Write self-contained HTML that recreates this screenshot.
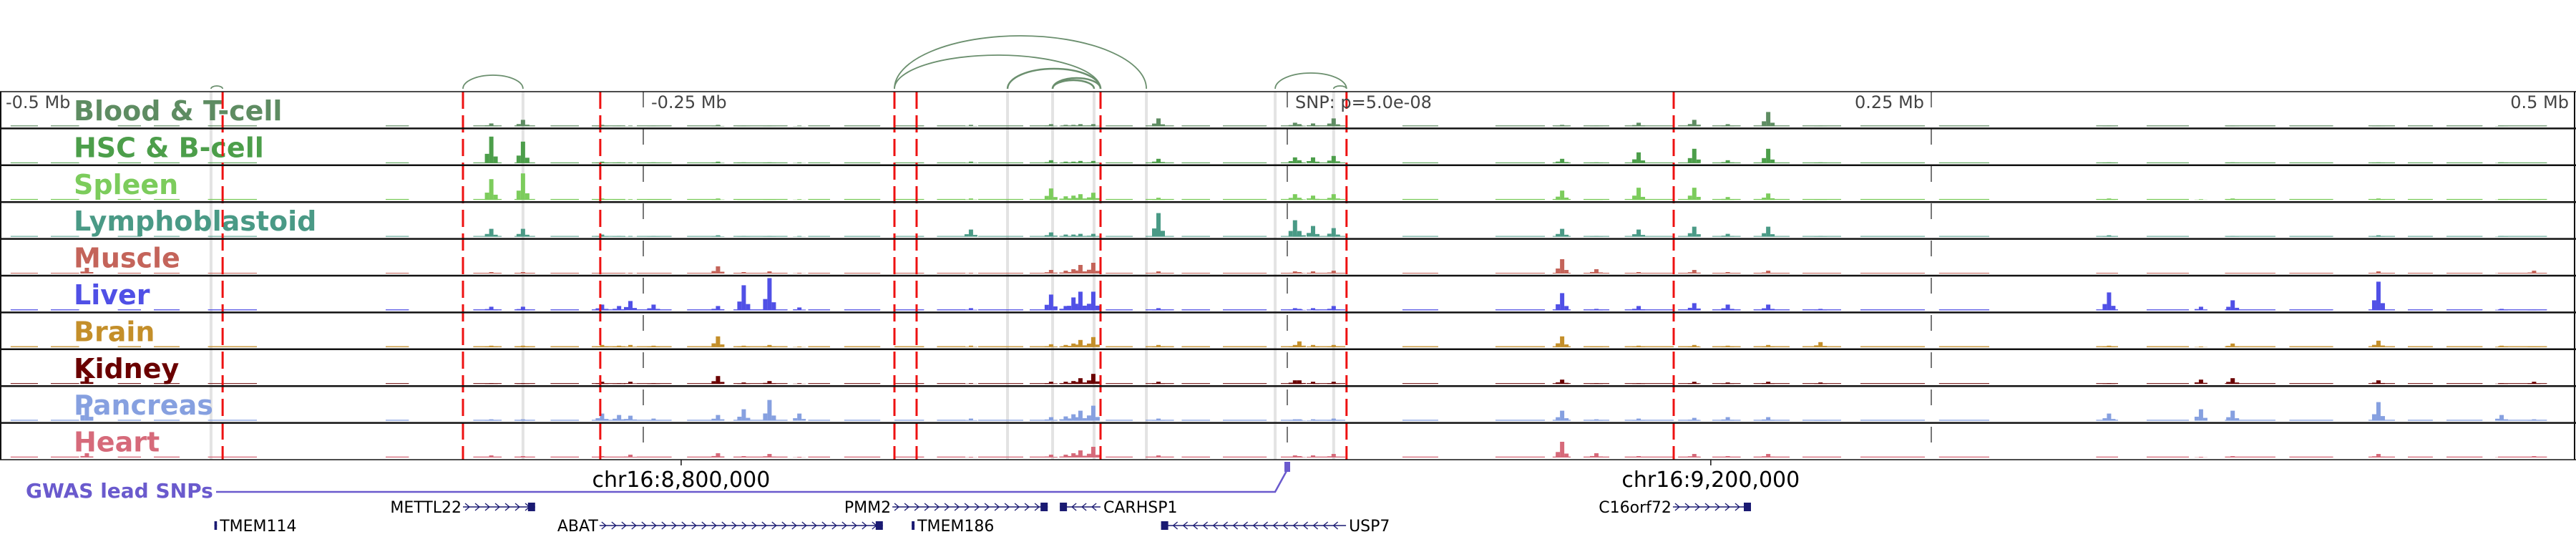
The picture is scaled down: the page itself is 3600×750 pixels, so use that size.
<!DOCTYPE html>
<html><head><meta charset="utf-8"><style>
html,body{margin:0;padding:0;background:#fff;width:3600px;height:750px;overflow:hidden}
svg{display:block}
</style></head><body>
<svg id="chart" width="3600" height="750" xmlns="http://www.w3.org/2000/svg"></svg>
<script>
// ---- data ----
const trackNames = ["Blood & T-cell","HSC & B-cell","Spleen","Lymphoblastoid","Muscle","Liver","Brain","Kidney","Pancreas","Heart"];
const trackColors = ["#5e8c62","#4c9e4a","#7ccc5c","#4a9a86","#c4645a","#5050e6","#c48f2a","#6a0000","#86a0e0","#d66a7a"];
const bgLevels = [1.2,1,1.3,1,1,1.3,1.3,1,1.3,1.3];
const bgStarts = [-495.6,-480,-454,-440,-419,-350,-316,-300,-286,-270,-252.5,-233,-215,-186,-172,-152.5,-136,-120,-100,-88,-70.5,-55,-41,-25,-2.5,10,44.7,80.8,103,115,131,151.7,165,181,200,222.5,253,314,333.6,364,389,419.7,435,450,470];
const bgEnds   = [-485,-469,-445,-430,-400,-341,-305,-292,-275,-257,-239,-220,-194,-177.5,-158,-141,-125,-102.5,-92,-75,-60,-44,-30,-8,6,22.5,58.6,100,110,125,150,160,176,195,215,247.5,272.5,322.5,350,383.6,406,430,444.7,464,489];
const peakPos = [-466,-309,-296.7,-266,-259.4,-255,-246,-221,-211,-201,-189.4,-122.8,-91.7,-86,-83,-80.3,-75.3,-50,3,4.7,10,18,106.7,120,136.4,158,171,186.7,207,319,354.7,367,423.6,471.4,484];
const peakVals = [
 [0,0,0,0,8,0,0,10,22,6],[4,37,29,11,2,5,2,1,2,3],[9,30,37,11,2,5,2,1,2,2],[2,2,2,3,1,8,3,3,10,2],
 [1,1,1,1,1,6,2,1,8,1],[1,1,1,1,1,13,3,3,7,4],[1,1,1,1,1,8,2,1,3,1],[2,2,2,2,10,6,15,11,8,6],
 [1,1,1,1,2,35,2,2,16,2],[1,1,1,1,3,45,3,4,29,5],[1,1,1,1,1,4,1,1,10,1],[2,2,2,10,1,3,2,1,3,1],
 [3,4,16,6,5,22,4,3,5,4],[2,2,5,3,4,6,3,3,6,4],[2,2,6,3,6,18,5,4,9,6],
 [3,3,8,4,12,26,10,8,14,10],[3,3,10,4,15,26,14,14,21,15],[11,6,3,33,3,3,3,3,3,3],
 [5,8,8,23,3,3,3,5,2,3],[3,4,3,8,2,2,8,5,2,2],[4,8,6,15,3,3,3,3,2,3],[11,10,8,12,4,6,3,3,3,5],
 [2,6,13,11,20,24,15,6,14,22],[1,1,1,1,6,2,1,1,2,6],[5,15,17,10,2,6,2,1,3,2],[9,20,17,14,5,10,3,3,4,5],
 [3,4,4,4,2,8,2,2,5,2],[20,20,9,14,4,8,3,3,5,5],[1,1,1,1,1,2,7,2,1,1],[1,1,2,2,1,25,2,1,10,1],
 [0,0,1,0,0,5,1,6,16,1],[1,1,2,1,1,14,5,8,14,2],[1,1,2,2,3,40,9,5,26,5],[1,1,1,1,1,2,2,1,8,1],[0,0,1,0,4,1,1,3,2,2]];
const redLines = [-413.3,-320,-266.7,-152.5,-143.9,-72.5,23,150];
const grayLines = [-417.8,-296.7,-108.6,-91.1,-75,-54.7,-4.7,18];
const tickKb = [-250,0,250];
const tickLabels = ["-0.5 Mb","-0.25 Mb","SNP: p=5.0e-08","0.25 Mb","0.5 Mb"];
const arcStart = [-417.8,-320,-152.5,-152.5,-108.6,-91.1,-91.1,-4.7,18];
const arcEnd   = [-413.3,-296.7,-54.7,-72.5,-72.5,-72.5,-75,23,23];
const arcHeight= [4,19,74,47,28,15,12,22,4];
const geneNames = ["METTL22","PMM2","CARHSP1","TMEM114","ABAT","TMEM186","USP7","C16orf72"];
const geneStart = [-320,-153.3,-88.3,-416.5,-267,-145.8,-49,149.7];
const geneEnd   = [-292,-93,-72.5,-415.5,-157,-144.7,22.8,180];
const geneStrand= [1,1,-1,-1,1,1,-1,1];
const geneRow   = [0,0,0,1,1,1,1,0];
const geneLabelSide = ["L","L","R","R","L","R","R","L"];
const coordKb = [-235.3,164.4];
const coordLabels = ["chr16:8,800,000","chr16:9,200,000"];
const snpKb = [0];

// ---- scales ----
const X0 = 1799, PX = 3.6;
function xs(kb){return X0 + kb*PX;}
const TOP = 128, TH = 51.4, NT = 10;
function trackTop(i){return TOP + i*TH;}
function yBase(i){return trackTop(i+1) - 3;}

const svg = document.getElementById('chart');
const NS = "http://www.w3.org/2000/svg";
function mk(tag, attrs, parent){const e=document.createElementNS(NS,tag);for(const k in attrs)e.setAttribute(k,attrs[k]);(parent||svg).appendChild(e);return e;}

grayLines.forEach(kb=>{
  const l=mk('rect',{x:xs(kb)-2,y:TOP,width:4,height:NT*TH,fill:'#e3e3e3'});
  
  
});

for(let t=0;t<NT;t++){
  const g=mk('g',{});
  
  
  for(let s=0;s<bgStarts.length;s++){
    const r=mk('rect',{x:xs(bgStarts[s]),y:yBase(t)-bgLevels[t],width:xs(bgEnds[s])-xs(bgStarts[s]),height:bgLevels[t],fill:trackColors[t]},g);
    
    
  }
  for(let p=0;p<peakPos.length;p++){
    const v=peakVals[p][t]; if(!v) continue;
    const cx=xs(peakPos[p]);
    const b=mk('rect',{x:cx-3,y:yBase(t)-v,width:6,height:v,fill:trackColors[t]},g);
    
    
    const s1=mk('rect',{x:cx-9,y:yBase(t)-v*0.35,width:6,height:v*0.35,fill:trackColors[t]},g);
    
    
    const s2=mk('rect',{x:cx+3,y:yBase(t)-v*0.25,width:6,height:v*0.25,fill:trackColors[t]},g);
    
    
  }
  const lbl=mk('text',{x:103,y:trackTop(t)+40,fill:trackColors[t],'font-family':'DejaVu Sans, sans-serif','font-weight':'bold','font-size':38},g);
  lbl.textContent=trackNames[t];
  
  
}

tickKb.forEach(kb=>{
  const l=mk('line',{x1:xs(kb),x2:xs(kb),y1:TOP,y2:TOP+NT*TH,stroke:'#777','stroke-width':2,'stroke-dasharray':'22,30'});
  
  
});
redLines.forEach(kb=>{
  const l=mk('line',{x1:xs(kb),x2:xs(kb),y1:TOP,y2:TOP+NT*TH,stroke:'#ee1111','stroke-width':3,'stroke-dasharray':'24,9'});
  
  
});

for(let t=0;t<=NT;t++){
  const l=mk('line',{x1:0,x2:3600,y1:trackTop(t),y2:trackTop(t),stroke:'#111','stroke-width':t==0||t==NT?1.5:2.5});
  
  
}
mk('line',{x1:1,x2:1,y1:TOP,y2:TOP+NT*TH,stroke:'#111','stroke-width':2,});
mk('line',{x1:3598,x2:3598,y1:TOP,y2:TOP+NT*TH,stroke:'#111','stroke-width':2,});

const tl=[{x:8,a:'start'},{x:910,a:'start'},{x:1810,a:'start'},{x:2689,a:'end'},{x:3590,a:'end'}];
tickLabels.forEach((s,i)=>{
  const e=mk('text',{x:tl[i].x,y:151,'text-anchor':tl[i].a,fill:'#444','font-family':'DejaVu Sans, sans-serif','font-size':24});
  e.textContent=s;
  
  
});

for(let i=0;i<arcStart.length;i++){
  const x1=xs(arcStart[i]),x2=xs(arcEnd[i]),r=(x2-x1)/2,h=arcHeight[i];
  const a=mk('path',{d:`M${x1},124 A${r},${h} 0 0 1 ${x2},124`,fill:'none',stroke:'#6b8f6e','stroke-width':i>=4&&i<=6?2.5:1.8});
  
  
}

coordKb.forEach((kb,i)=>{
  mk('line',{x1:xs(kb),x2:xs(kb),y1:TOP+NT*TH,y2:TOP+NT*TH+8,stroke:'#111','stroke-width':1.5,});
  const e=mk('text',{x:xs(kb),y:680,'text-anchor':'middle',fill:'#000','font-family':'DejaVu Sans, sans-serif','font-size':30});
  e.textContent=coordLabels[i];
  
  
});

const gl=mk('text',{x:36,y:695,fill:'#6a5acd','font-family':'DejaVu Sans, sans-serif','font-weight':'bold','font-size':28});
gl.textContent='GWAS lead SNPs';


snpKb.forEach(kb=>{
  const p=mk('path',{d:`M302,687 L${xs(kb)-17},687 L${xs(kb)},656`,fill:'none',stroke:'#6a5acd','stroke-width':2.5});
  
  
  const r=mk('rect',{x:xs(kb)-4,y:645,width:8,height:14,fill:'#6a5acd'});
  
  
});

const NAVY='#1a1a72';
for(let i=0;i<geneNames.length;i++){
  const g=mk('g',{});
  
  
  const y=geneRow[i]?734:708, x1=xs(geneStart[i]), x2=xs(geneEnd[i]);
  mk('line',{x1:x1,x2:x2,y1:y,y2:y,stroke:NAVY,'stroke-width':1.5},g);
  for(let x=x1+6;x<x2-6;x+=14){
    const d=geneStrand[i]>0?`M${x-3},${y-5} L${x+3},${y} L${x-3},${y+5}`:`M${x+3},${y-5} L${x-3},${y} L${x+3},${y+5}`;
    mk('path',{d:d,fill:'none',stroke:NAVY,'stroke-width':1.3},g);
  }
  if(x2-x1>20){
    const bx=geneStrand[i]>0?x2-10:x1;
    mk('rect',{x:bx,y:y-6,width:10,height:12,fill:NAVY},g);
  } else {
    mk('rect',{x:x1,y:y-6,width:Math.max(3,x2-x1),height:12,fill:NAVY},g);
  }
  const t=mk('text',{x:geneLabelSide[i]=='L'?x1-2:x2+4,y:y+8,'text-anchor':geneLabelSide[i]=='L'?'end':'start',fill:'#000','font-family':'DejaVu Sans, sans-serif','font-size':22},g);
  t.textContent=geneNames[i];
}
</script>
</body></html>
